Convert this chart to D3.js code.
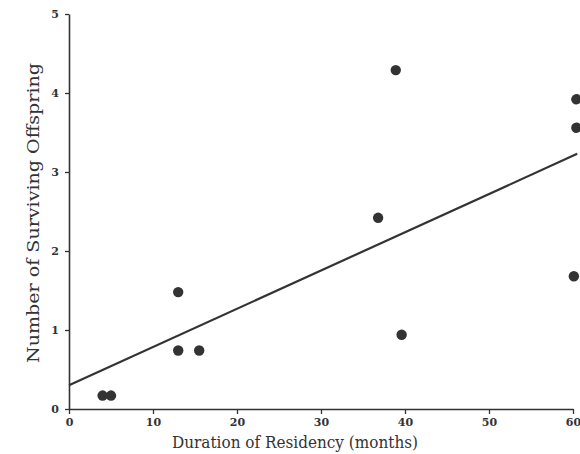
<!DOCTYPE html>
<html><head><meta charset="utf-8">
<script src="https://cdn.jsdelivr.net/npm/d3@7"></script>
<style>body{margin:0;background:#fff}svg{display:block}</style>
</head><body>
<script>
const months = [4, 5, 13, 13, 15.5, 36.8, 38.9, 39.6, 60.4, 60.4, 60.1];
const offspring = [0.17, 0.17, 1.48, 0.74, 0.74, 2.42, 4.29, 0.94, 3.92, 3.56, 1.68];
const fitX = [0, 60.5];
const fitY = [0.30, 3.23];
const xTicks = [0, 10, 20, 30, 40, 50, 60];
const yTicks = [0, 1, 2, 3, 4, 5];

const W = 580, H = 454;
const svg = d3.select("body").append("svg").attr("width", W).attr("height", H);
const x = d3.scaleLinear().domain([0, 60]).range([69, 573]);
const y = d3.scaleLinear().domain([0, 5]).range([409, 14]);
const ink = "#333";
const font = "'DejaVu Serif', serif";

const xa = svg.append("g").attr("transform", `translate(0,${y(0)})`)
  .call(d3.axisBottom(x).tickValues(xTicks).tickFormat(d3.format("d")).tickSize(5).tickSizeOuter(0).tickPadding(4));
const ya = svg.append("g").attr("transform", `translate(${x(0)},0)`)
  .call(d3.axisLeft(y).tickValues(yTicks).tickFormat(d3.format("d")).tickSize(4).tickSizeOuter(0).tickPadding(6));
[xa, ya].forEach(a => {
  a.select(".domain").attr("stroke", ink).attr("stroke-width", 1.6);
  a.selectAll(".tick line").attr("stroke", ink).attr("stroke-width", 1.3);
  a.selectAll(".tick text").attr("fill", ink).attr("font-family", font)
    .attr("font-size", 11).attr("font-weight", "bold");
});

svg.append("line")
  .attr("x1", x(fitX[0])).attr("y1", y(fitY[0]))
  .attr("x2", x(fitX[1])).attr("y2", y(fitY[1]))
  .attr("stroke", ink).attr("stroke-width", 2.2);

svg.append("g").selectAll("circle").data(months.map((m, i) => [m, offspring[i]]))
  .join("circle")
  .attr("cx", d => x(d[0])).attr("cy", d => y(d[1])).attr("r", 5.2)
  .attr("fill", ink);

svg.append("text").attr("x", 295).attr("y", 448).attr("text-anchor", "middle")
  .attr("font-family", font).attr("font-size", 17).attr("fill", ink)
  .attr("textLength", 246).attr("lengthAdjust", "spacingAndGlyphs")
  .text("Duration of Residency (months)");

svg.append("text").attr("transform", "translate(39,213) rotate(-90)")
  .attr("text-anchor", "middle")
  .attr("font-family", font).attr("font-size", 16).attr("fill", ink)
  .attr("textLength", 300).attr("lengthAdjust", "spacingAndGlyphs")
  .text("Number of Surviving Offspring");
</script>
</body></html>
